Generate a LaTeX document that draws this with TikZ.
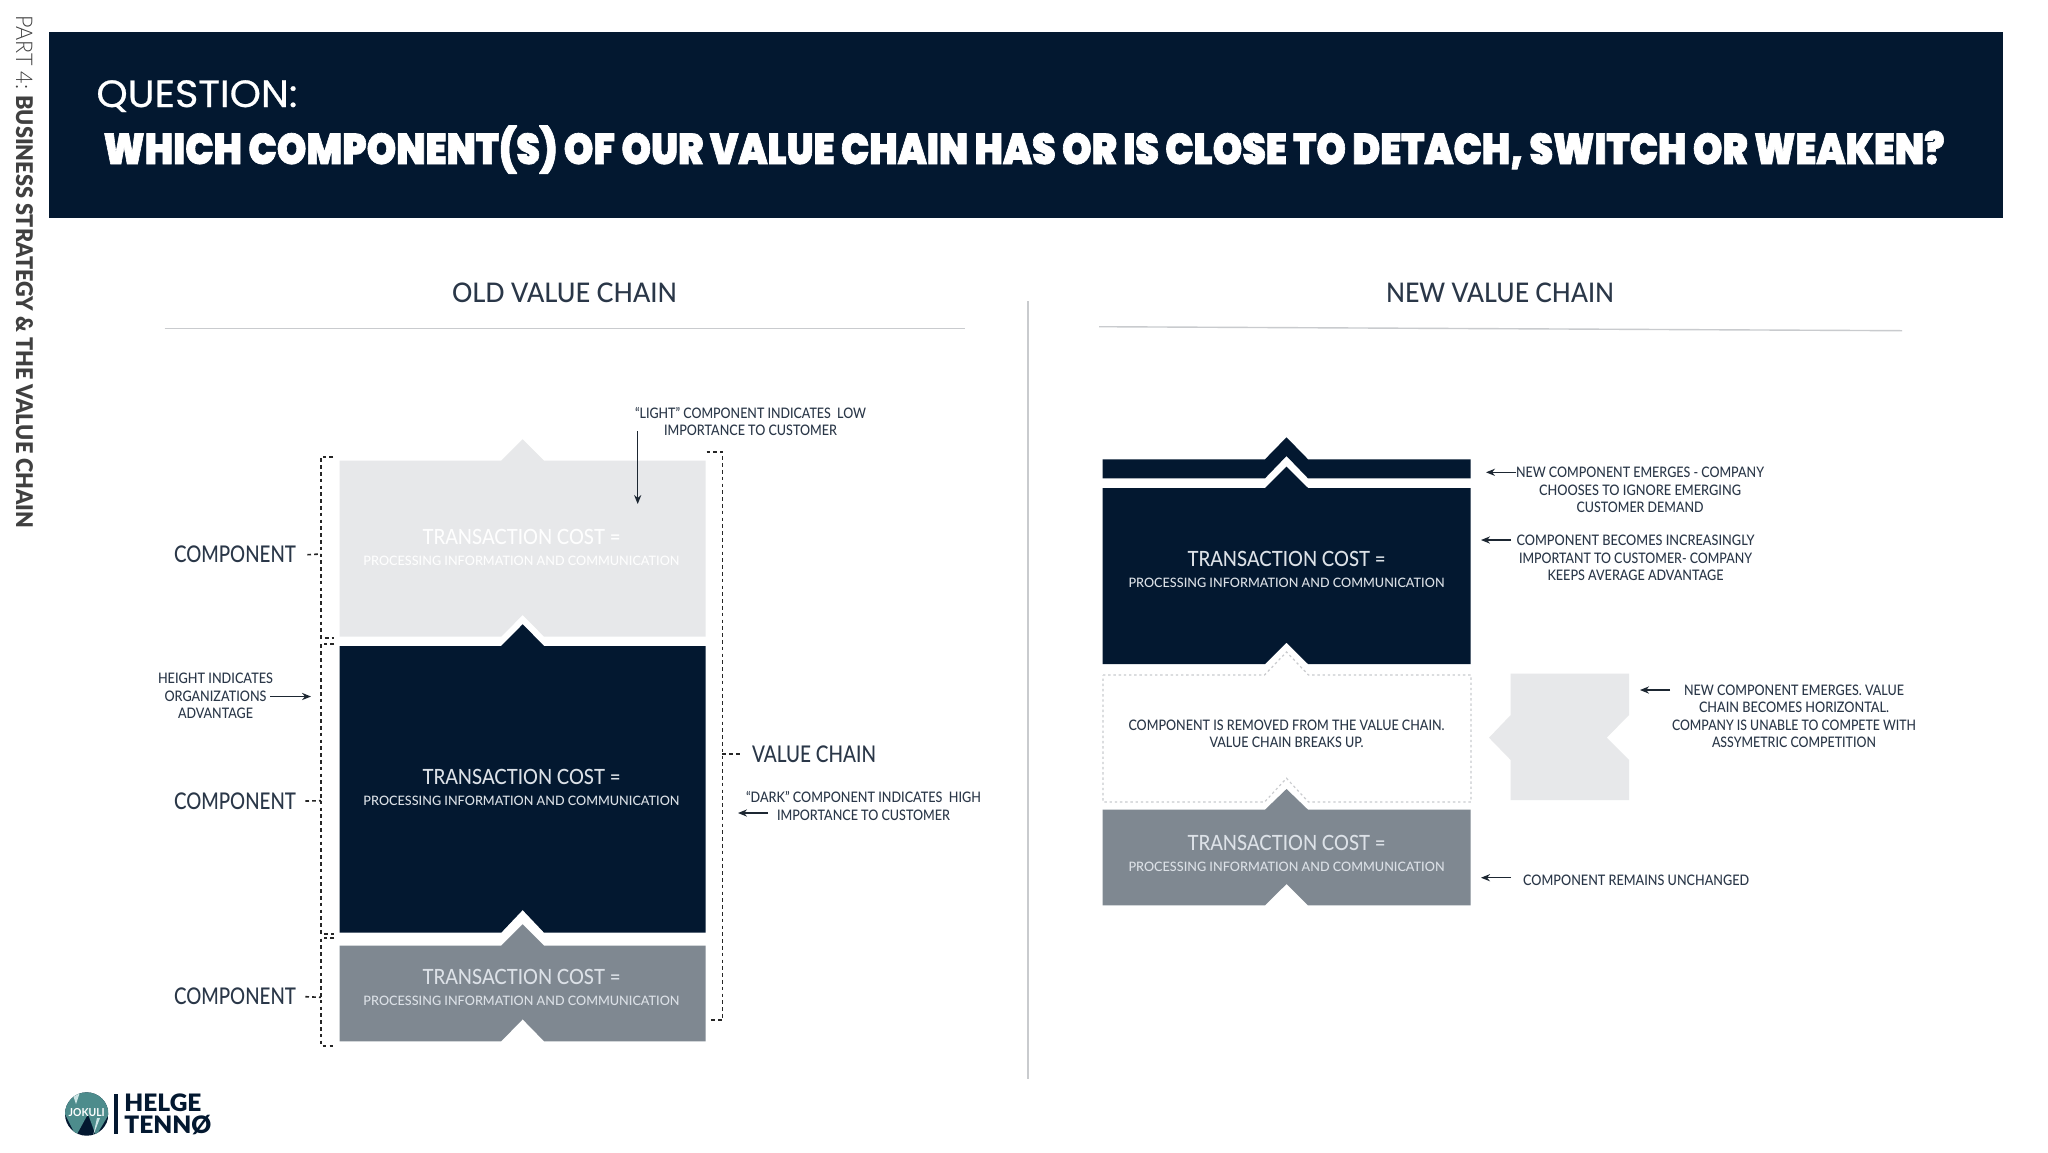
\documentclass[tikz,border=0pt]{standalone}
\usepackage{fontspec}
\usepackage{graphicx}
\usetikzlibrary{arrows.meta}
\setmainfont{Lato Medium}[BoldFont=Lato Bold]
\newfontfamily\thinfont{Lato Light}
\newfontfamily\blackfont{Lato Black}
\newfontfamily\headfont[FakeBold=1.6]{Poppins Black}
\newfontfamily\questfont[FakeBold=0.6]{Poppins}
\definecolor{navy}{HTML}{031830}
\definecolor{slategrey}{HTML}{7F8891}
\definecolor{palegrey}{HTML}{E7E8EA}
\definecolor{inktext}{HTML}{2A3748}
\definecolor{softwhite}{HTML}{DCE1E7}
\definecolor{rulegrey}{HTML}{C9CBCE}
% sizes are given in reference pixels; 1px = 0.5pt
\newcommand{\pxfont}[1]{\fontsize{\the\dimexpr #1pt/2\relax}{\the\dimexpr #1pt/2\relax}\selectfont}
\newcommand{\fitw}[2]{\resizebox{\the\dimexpr #1pt/2\relax}{\height}{#2}}
\newcommand{\arrowblock}[7]{% x1,x2,top,bottom,apex,notch,colour
  \fill[#7] (#1,#3) -- ({(#1+#2)/2-21.5},#3) -- ({(#1+#2)/2},#5) -- ({(#1+#2)/2+21.5},#3) -- (#2,#3)
    -- (#2,#4) -- ({(#1+#2)/2+21.5},#4) -- ({(#1+#2)/2},#6) -- ({(#1+#2)/2-21.5},#4) -- (#1,#4) -- cycle;}
\tikzset{
  big/.style={inner sep=0pt,text=softwhite},
  small/.style={inner sep=0pt,text=softwhite},
  label/.style={inner sep=0pt,text=inktext,font=\pxfont{23}},
  ann/.style={inner sep=0pt,text=inktext,font=\pxfont{14.5},align=center},
  dashline/.style={draw=black!85,line width=0.8pt,dash pattern=on 1.8pt off 1.6pt},
  pointer/.style={draw=inktext!70!black,line width=0.6pt,-{Stealth[length=4.5pt,width=3.6pt]}},
  rule/.style={draw=rulegrey,line width=0.7pt},
  gone/.style={draw=rulegrey,line width=0.6pt,dash pattern=on 1.2pt off 1.4pt},
}
\newcommand{\tcost}[5]{% name,x,y1,y2,colour
  \node[big,text=#5] (#1a) at (#2,#3) {\fitw{198}{\pxfont{21}TRANSACTION COST =}};
  \node[small,text=#5] (#1b) at (#2,#4) {\fitw{316}{\pxfont{13}PROCESSING INFORMATION AND COMMUNICATION}};}
\begin{document}
\begin{tikzpicture}[x=0.5pt,y=-0.5pt]
\useasboundingbox (0,0) rectangle (2048,1152);
\fill[white] (0,0) rectangle (2048,1152);
% banner
\fill[navy] (48.5,32) rectangle (2003,218);
\node[inner sep=0pt,anchor=base west,text=white] (question) at (96,107) {\fitw{201}{\pxfont{38}\questfont QUESTION:}};
\node[inner sep=0pt,anchor=base west,text=white] (headline) at (103,164) {\fitw{1841}{\pxfont{43}\headfont WHICH COMPONENT(S) OF OUR VALUE CHAIN HAS OR IS CLOSE TO DETACH, SWITCH OR WEAKEN?}};
% sidebar
\node[inner sep=0pt,rotate=-90,anchor=west,text=black!75] (sidebar) at (24.5,15) {\pxfont{23}\fitw{74}{\thinfont PART 4:}\hspace{3pt}\fitw{433}{\blackfont BUSINESS STRATEGY \& THE VALUE CHAIN}};
% titles and rules
\node[inner sep=0pt,text=inktext] (oldtitle) at (564.5,293) {\fitw{225}{\pxfont{27}OLD VALUE CHAIN}};
\node[inner sep=0pt,text=inktext] (newtitle) at (1500,293) {\fitw{228}{\pxfont{27}NEW VALUE CHAIN}};
\draw[rule] (164.6,328.5) -- (965,328.5);
\draw[rule] (1099,326.7) -- (1902,330.7);
\draw[rule] (1028,301) -- (1028,1079);
% old chain
\arrowblock{339.6}{705.7}{460.7}{636.7}{439.3}{615}{palegrey}
\arrowblock{339.6}{705.7}{646}{932.7}{624.3}{910}{navy}
\arrowblock{339.6}{705.7}{945.7}{1041.3}{924.3}{1019.3}{slategrey}
\tcost{ol}{521.5}{536.7}{561.3}{white!95!palegrey}
\tcost{om}{521.5}{776.7}{801}{softwhite}
\tcost{os}{521.5}{976.7}{1001.3}{softwhite}
% brackets
\draw[dashline] (333,456.7) -- (321,456.7) -- (321,638) -- (334,638);
\draw[dashline] (334,643.7) -- (321,643.7) -- (321,933.7) -- (334,933.7);
\draw[dashline] (334,938) -- (321,938) -- (321,1045.7) -- (333,1045.7);
\draw[dashline] (706.5,451.7) -- (722.3,451.7) -- (722.3,1020) -- (708.5,1020);
% component labels
\node[label] (c1) at (235,554.7) {\fitw{122}{COMPONENT}};
\node[label] (c2) at (235,801) {\fitw{122}{COMPONENT}};
\node[label] (c3) at (235,996.7) {\fitw{122}{COMPONENT}};
\coordinate (b1) at (321,554);
\coordinate (b2) at (321,800.7);
\coordinate (b3) at (321,997.3);
\coordinate (b4) at (722.3,754);
\draw[dashline] ([xshift=5.5pt]c1.east) -- (b1);
\draw[dashline] ([xshift=4.5pt]c2.east) -- (b2);
\draw[dashline] ([xshift=4.5pt]c3.east) -- (b3);
\node[label] (vc) at (814,754) {\fitw{124}{VALUE CHAIN}};
\draw[dashline] (b4) -- ([xshift=-5pt]vc.west);
% old annotations
\node[ann] (light) at (750.5,421.7) {\fitw{231}{\pxfont{14.5}“LIGHT” COMPONENT INDICATES\ \ LOW}\\[1.4pt]\fitw{173}{\pxfont{14.5}IMPORTANCE TO CUSTOMER}};
\node[ann] (height) at (215.5,696) {\fitw{115}{\pxfont{14.5}HEIGHT INDICATES}\\[1.4pt]\fitw{102}{\pxfont{14.5}ORGANIZATIONS}\\[1.4pt]\fitw{75}{\pxfont{14.5}ADVANTAGE}};
\node[ann] (dark) at (863.5,806) {\fitw{235}{\pxfont{14.5}“DARK” COMPONENT INDICATES\ \ HIGH}\\[1.4pt]\fitw{173}{\pxfont{14.5}IMPORTANCE TO CUSTOMER}};
\coordinate (ltail) at (637.7,431);
\coordinate (ltip) at (637.7,504);
\draw[pointer] (ltail) -- (ltip);
\coordinate (htail) at (270.4,696.5);
\coordinate (htip) at (311,696.5);
\draw[pointer] (htail) -- (htip);
\coordinate (dtail) at (768,813);
\coordinate (dtip) at (738,813);
\draw[pointer] (dtail) -- (dtip);
% new chain
\arrowblock{1102.5}{1470.5}{459.3}{478.3}{437.3}{456}{navy}
\arrowblock{1102.5}{1470.5}{488}{664}{466.7}{642.7}{navy}
\arrowblock{1102.5}{1470.5}{809.7}{905.3}{789}{884}{slategrey}
\draw[gone] (1103,675) -- (1264.5,675) -- (1286.5,652) -- (1308.5,675) -- (1471,675) -- (1471,802) -- (1308.5,802) -- (1286.5,778.3) -- (1264.5,802) -- (1103,802) -- cycle;
\tcost{na}{1286.5}{559.3}{582.7}{softwhite}
\tcost{nc}{1286.5}{842.8}{866.7}{softwhite}
\node[ann] (removed) at (1286.5,734) {\fitw{316}{\pxfont{14.5}COMPONENT IS REMOVED FROM THE VALUE CHAIN.}\\[1.4pt]\fitw{154}{\pxfont{14.5}VALUE CHAIN BREAKS UP.}};
\fill[palegrey] (1510.7,673.7) -- (1629,673.7) -- (1629,715) -- (1606.7,737.7) -- (1629,760) -- (1629,800) -- (1510.7,800) -- (1510.7,760) -- (1489,737.7) -- (1510.7,715) -- cycle;
% new annotations
\node[ann] (n1) at (1640,490) {\fitw{248}{\pxfont{14.5}NEW COMPONENT EMERGES - COMPANY}\\[1.4pt]\fitw{202}{\pxfont{14.5}CHOOSES TO IGNORE EMERGING}\\[1.4pt]\fitw{127}{\pxfont{14.5}CUSTOMER DEMAND}};
\node[ann] (n2) at (1635.5,558) {\fitw{238}{\pxfont{14.5}COMPONENT BECOMES INCREASINGLY}\\[1.4pt]\fitw{233}{\pxfont{14.5}IMPORTANT TO CUSTOMER- COMPANY}\\[1.4pt]\fitw{176}{\pxfont{14.5}KEEPS AVERAGE ADVANTAGE}};
\node[ann] (n3) at (1794,716.3) {\fitw{220}{\pxfont{14.5}NEW COMPONENT EMERGES. VALUE}\\[1.4pt]\fitw{190}{\pxfont{14.5}CHAIN BECOMES HORIZONTAL.}\\[1.4pt]\fitw{244}{\pxfont{14.5}COMPANY IS UNABLE TO COMPETE WITH}\\[1.4pt]\fitw{164}{\pxfont{14.5}ASSYMETRIC COMPETITION}};
\node[ann,anchor=west] (n4) at (1522.8,880) {\fitw{226}{\pxfont{14.5}COMPONENT REMAINS UNCHANGED}};
\coordinate (t1) at (1516,472.3); \coordinate (p1) at (1486,472.3);
\coordinate (t2) at (1511,540); \coordinate (p2) at (1481,540);
\coordinate (t3) at (1670,690); \coordinate (p3) at (1640,690);
\coordinate (t4) at (1511,877.7); \coordinate (p4) at (1481,877.7);
\draw[pointer] (t1) -- (p1);
\draw[pointer] (t2) -- (p2);
\draw[pointer] (t3) -- (p3);
\draw[pointer] (t4) -- (p4);
% logo
\begin{scope}
\clip (86.7,1114) circle[radius=21.7];
\fill[navy] (65,1092) rectangle (109,1136);
\fill[teal!55!gray!90] (65,1090) -- (109,1090) -- (109,1114) -- (96,1136) -- (88,1114) -- (76,1136) -- (65,1114) -- cycle;
\fill[white!80!teal] (80,1092) -- (76,1104) -- (72,1092) -- cycle;
\fill[white!80!teal] (93,1136) -- (97,1118) -- (100,1118) -- cycle;
\end{scope}
\node[inner sep=0pt,text=white] (jokuli) at (86.7,1113) {\fitw{36}{\pxfont{11}\bfseries JOKULI}};
\fill[navy] (113.7,1094) rectangle (117.7,1134);
\node[inner sep=0pt,anchor=west,text=navy] (helge) at (124,1103) {\fitw{77}{\pxfont{24}\blackfont HELGE}};
\node[inner sep=0pt,anchor=west,text=navy] (tenno) at (124,1125) {\fitw{87}{\pxfont{24}\blackfont TENNØ}};
\end{tikzpicture}
\end{document}
